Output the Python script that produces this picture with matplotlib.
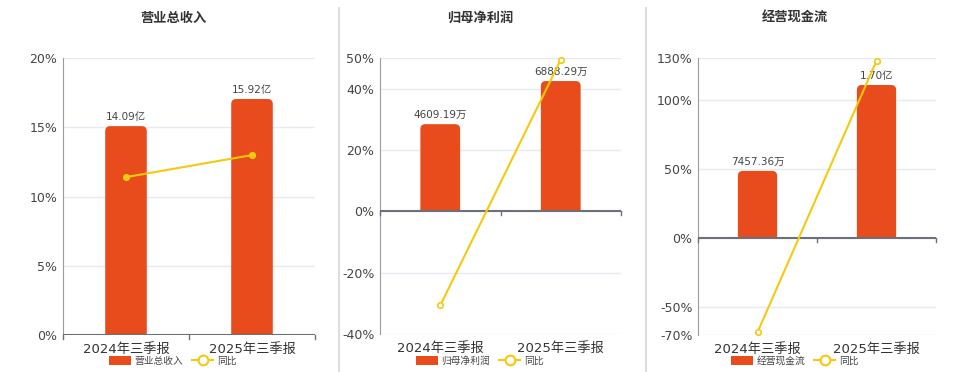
import numpy as np
import matplotlib.pyplot as plt
from matplotlib.patches import FancyBboxPatch, Patch, Rectangle
from matplotlib.lines import Line2D

plt.rcParams['font.family'] = ['DejaVu Sans', 'Noto Sans CJK SC']

# ===================== Data =====================
categories = ["2024年三季报", "2025年三季报"]
titles = ["营业总收入", "归母净利润", "经营现金流"]

revenue = [14.09, 15.92]            # 亿
revenue_labels = ["14.09亿", "15.92亿"]
revenue_yoy = [11.4, 12.99]         # %

profit = [4609.19, 6888.29]         # 万
profit_labels = ["4609.19万", "6888.29万"]
profit_yoy = [-30.7, 49.45]

cashflow = [7457.36, 17000.0]       # 万
cashflow_labels = ["7457.36万", "1.70亿"]
cashflow_yoy = [-68.0, 127.96]

pct_ticks = [
    [0, 5, 10, 15, 20],
    [-40, -20, 0, 20, 40, 50],
    [-70, -50, 0, 50, 100, 130],
]

# ===================== Styling =====================
W, H = 960, 372
BAR_C = "#E84C1C"
LINE_C = "#F5C90F"
GRID_C = "#E6EAF2"
AXIS_C = "#6E7079"
TXT_C = "#333333"

# panel rects in pixels: left, top, right, bottom
rects = [(63, 58, 315, 335), (380, 58, 621, 334), (698, 58, 936, 335)]
centers_px = [173, 480, 795]

fig = plt.figure(figsize=(9.6, 3.72), dpi=100)


def add_axes_px(l, t, r, b):
    return fig.add_axes([l / W, 1 - b / H, (r - l) / W, (b - t) / H])


def draw_panel(i, bars, bar_labels, yoy, filled):
    l, t, r, b = rects[i]
    ticks = pct_ticks[i]
    ylo, yhi = ticks[0], ticks[-1]
    x = np.arange(len(categories))

    # percent axis (grid, left spine, tick labels)
    ax = add_axes_px(l, t, r, b)
    ax.set_xlim(-0.5, 1.5)
    ax.set_ylim(ylo, yhi)
    ax.set_yticks(ticks, [f"{v}%" for v in ticks])
    ax.tick_params(axis='y', length=0, pad=4, labelsize=9, labelcolor="#444444")
    ax.grid(axis='y', color=GRID_C, linewidth=1)
    ax.set_axisbelow(True)
    for s in ["top", "right", "bottom"]:
        ax.spines[s].set_visible(False)
    ax.spines["left"].set_color("#9A9CA3")
    ax.set_xticks([])

    # bar axis (shares zero pixel with percent axis)
    axb = add_axes_px(l, t, r, b)
    axb.patch.set_visible(False)
    axb.set_xlim(-0.5, 1.5)
    frac = {0: 236 / 277, 1: 130 / 153, 2: 153 / 180}[i]
    bhi = max(bars) / frac
    blo = bhi * ylo / yhi
    axb.set_ylim(blo, bhi)
    axb.axis("off")
    rects_b = axb.bar(x, bars, width=0.33, color=BAR_C, alpha=0)
    px_per_x = (r - l) / 2.0
    px_per_y = (b - t) / (bhi - blo)
    rad = 5 / px_per_x
    aspect = px_per_x / px_per_y
    clip = Rectangle((-0.5, 0), 2, bhi, transform=axb.transData)
    # rounded tops, square bottoms (extend below zero and clip)
    for p in rects_b.patches:
        px, pw, ph = p.get_x(), p.get_width(), p.get_height()
        ext = 8 / px_per_y
        fb = FancyBboxPatch((px, -ext), pw, ph + ext,
                            boxstyle=f"round,pad=0,rounding_size={rad}",
                            mutation_aspect=aspect,
                            facecolor=BAR_C, edgecolor="none")
        axb.add_patch(fb)
        fb.set_clip_path(clip)
    for xi, v, lab in zip(x, bars, bar_labels):
        axb.annotate(lab, (xi, v), xytext=(0, 3), textcoords="offset points",
                     ha="center", va="bottom", fontsize=7.5, color="#444444")
    # zero axis line with ticks at category boundaries
    axb.axhline(0, color=AXIS_C, lw=1.5)
    for xt in [-0.5, 0.5, 1.5]:
        axb.plot([xt, xt], [0, -4 / px_per_y], color=AXIS_C, lw=1, clip_on=False)

    # line axis on top
    axl = add_axes_px(l, t, r, b)
    axl.patch.set_visible(False)
    axl.set_xlim(-0.5, 1.5)
    axl.set_ylim(ylo, yhi)
    axl.set_yticks([])
    for s in axl.spines.values():
        s.set_visible(False)
    axl.set_xticks(x, categories)
    axl.tick_params(axis='x', length=0, pad=6, labelsize=9.5, labelcolor=TXT_C)
    axl.plot(x, yoy, color=LINE_C, linewidth=1.5, marker='o', markersize=4,
             markerfacecolor=LINE_C if filled else "white",
             markeredgecolor=LINE_C, markeredgewidth=1.2, clip_on=False)

    fig.text(centers_px[i] / W, 1 - 18 / H, titles[i], ha="center", va="center",
             fontsize=9.5, fontweight="bold", color=TXT_C)

    handles = [Patch(facecolor=BAR_C, edgecolor="none"),
               Line2D([0], [0], color=LINE_C, lw=1.5, marker='o', markersize=7,
                      markerfacecolor="white", markeredgecolor=LINE_C, markeredgewidth=1.5)]
    fig.legend(handles, [titles[i], "同比"], loc="center",
               bbox_to_anchor=(centers_px[i] / W, 1 - 361 / H), ncol=2, frameon=False,
               fontsize=7, handlelength=2.2, handleheight=1.0, columnspacing=0.9,
               handletextpad=0.4, labelcolor="#444444")


draw_panel(0, revenue, revenue_labels, revenue_yoy, True)
draw_panel(1, profit, profit_labels, profit_yoy, False)
draw_panel(2, cashflow, cashflow_labels, cashflow_yoy, False)

# panel separators
for xs in [339, 646]:
    fig.add_artist(Line2D([xs / W, xs / W], [0, 1 - 8 / H], color="#DDDDDD", lw=1.5))

fig.savefig("out.png", dpi=100, facecolor="white")
